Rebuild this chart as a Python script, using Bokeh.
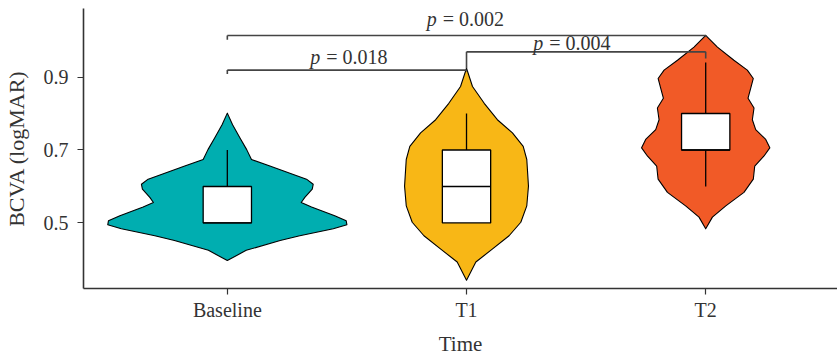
import numpy as np
from bokeh.plotting import figure
from bokeh.models import FixedTicker, Range1d
from bokeh.embed import file_html
from bokeh.resources import INLINE
from bokeh.core.properties import value

# ---- data ----
groups = ["Baseline", "T1", "T2"]
group_x = [1, 2, 3]
colors = ["#00AEB0", "#F8B716", "#F15A27"]

# violin outlines: level (logMAR) and half-width (x units)
base_lvl = [0.801, 0.769, 0.733, 0.701, 0.674, 0.656, 0.633, 0.620, 0.606, 0.593,
            0.570, 0.556, 0.544, 0.520, 0.506, 0.495, 0.484, 0.465, 0.452, 0.425, 0.397]
base_hw = [0.0, 0.022, 0.053, 0.081, 0.101, 0.178, 0.276, 0.331, 0.359, 0.355,
           0.324, 0.309, 0.352, 0.449, 0.497, 0.500, 0.443, 0.303, 0.221, 0.079, 0.0]

t1_lvl = [0.924, 0.874, 0.828, 0.783, 0.747, 0.710, 0.674, 0.601, 0.547, 0.502,
          0.465, 0.429, 0.393, 0.343]
t1_hw = [0.0, 0.025, 0.074, 0.129, 0.192, 0.237, 0.252, 0.259, 0.252, 0.227,
         0.178, 0.109, 0.039, 0.0]

t2_lvl = [1.014, 0.982, 0.946, 0.919, 0.896, 0.869, 0.842, 0.815, 0.783, 0.756,
          0.729, 0.706, 0.683, 0.656, 0.620, 0.584, 0.547, 0.516, 0.484]
t2_hw = [0.0, 0.049, 0.118, 0.174, 0.199, 0.188, 0.177, 0.202, 0.195, 0.209,
         0.251, 0.268, 0.243, 0.205, 0.199, 0.160, 0.084, 0.028, 0.0]

# box plot statistics
q1 = [0.5, 0.5, 0.7]
median = [0.5, 0.6, 0.7]
q3 = [0.6, 0.7, 0.8]
whisk_lo = [0.5, 0.5, 0.6]
whisk_hi = [0.7, 0.8, 0.94]

# significance brackets
br_from = [1, 1, 2]
br_to = [2, 3, 3]
br_y = [0.919, 1.014, 0.969]
br_leg_from = [0.908, 1.002, 0.924]
br_leg_to = [0.915, 1.010, 0.951]
p_values = ["0.018", "0.002", "0.004"]
p_label_x = [1.347, 1.834, 2.279]
p_label_y = [0.956, 1.060, 0.994]

yticks = [0.5, 0.7, 0.9]

FONT = "Liberation Serif"

p = figure(width=837, height=358, output_backend="svg", toolbar_location=None,
           x_range=Range1d(0.3987, 3.551), y_range=Range1d(0.3204, 1.0878),
           min_border_left=82, min_border_right=0, min_border_top=8, min_border_bottom=68)
p.outline_line_color = None
p.xgrid.visible = False
p.ygrid.visible = False
p.background_fill_color = "white"

box_half = 0.101
outlines = [(base_lvl, base_hw), (t1_lvl, t1_hw), (t2_lvl, t2_hw)]
for cx, (lvl, hw), col in zip(group_x, outlines, colors):
    lvl = np.asarray(lvl)
    hw = np.asarray(hw)
    xs = np.concatenate([cx + hw, (cx - hw)[::-1]])
    ys = np.concatenate([lvl, lvl[::-1]])
    p.patch(xs, ys, fill_color=col, line_color="black", line_width=1.1,
            line_join="round")

gx = np.asarray(group_x, dtype=float)
# whiskers
p.segment(x0=gx, x1=gx, y0=q3, y1=whisk_hi, line_color="black", line_width=1.3)
p.segment(x0=gx, x1=gx, y0=q1, y1=whisk_lo, line_color="black", line_width=1.3)
# boxes
p.quad(left=gx - box_half, right=gx + box_half, bottom=q1, top=q3,
       fill_color="white", line_color="black", line_width=1.3)
p.segment(x0=gx - box_half, x1=gx + box_half, y0=median, y1=median,
          line_color="black", line_width=1.3)

# brackets
bc = "#444444"
p.segment(x0=br_from, x1=br_to, y0=br_y, y1=br_y, line_color=bc, line_width=1.6)
p.segment(x0=br_from, x1=br_from, y0=br_y, y1=br_leg_from, line_color=bc, line_width=1.6)
p.segment(x0=br_to, x1=br_to, y0=br_y, y1=br_leg_to, line_color=bc, line_width=1.6)

p.text(x=p_label_x, y=p_label_y, text=["p"] * 3, text_font=value(FONT),
       text_font_style="italic", text_font_size="20px", text_color="#333333",
       text_align="left", text_baseline="alphabetic")
p.text(x=p_label_x, y=p_label_y, text=["= " + v for v in p_values], x_offset=16,
       text_font=value(FONT), text_font_size="20px", text_color="#333333",
       text_align="left", text_baseline="alphabetic")

# axes
p.xaxis.ticker = FixedTicker(ticks=group_x)
p.xaxis.major_label_overrides = {x: g for x, g in zip(group_x, groups)}
p.yaxis.ticker = FixedTicker(ticks=yticks)
p.yaxis.major_label_overrides = {t: f"{t:.1f}" for t in yticks}
p.xaxis.axis_label = "Time"
p.yaxis.axis_label = "BCVA (logMAR)"
for ax in (p.xaxis, p.yaxis):
    ax.axis_line_color = "#333333"
    ax.axis_line_width = 1.6
    ax.major_tick_line_color = "#333333"
    ax.major_tick_line_width = 1.2
    ax.major_tick_in = 0
    ax.major_tick_out = 6
    ax.minor_tick_line_color = None
    ax.major_label_text_font = FONT
    ax.major_label_text_font_size = "20px"
    ax.major_label_text_color = "#333333"
    ax.axis_label_text_font = FONT
    ax.axis_label_text_font_size = "21px"
    ax.axis_label_text_font_style = "normal"
    ax.axis_label_text_color = "#333333"
p.yaxis.axis_label_text_font_size = "22px"
p.xaxis.major_label_standoff = 4
p.xaxis.axis_label_standoff = 8
p.yaxis.major_label_standoff = 9
p.yaxis.axis_label_standoff = 12

open("out.html", "w").write(file_html(p, INLINE))
